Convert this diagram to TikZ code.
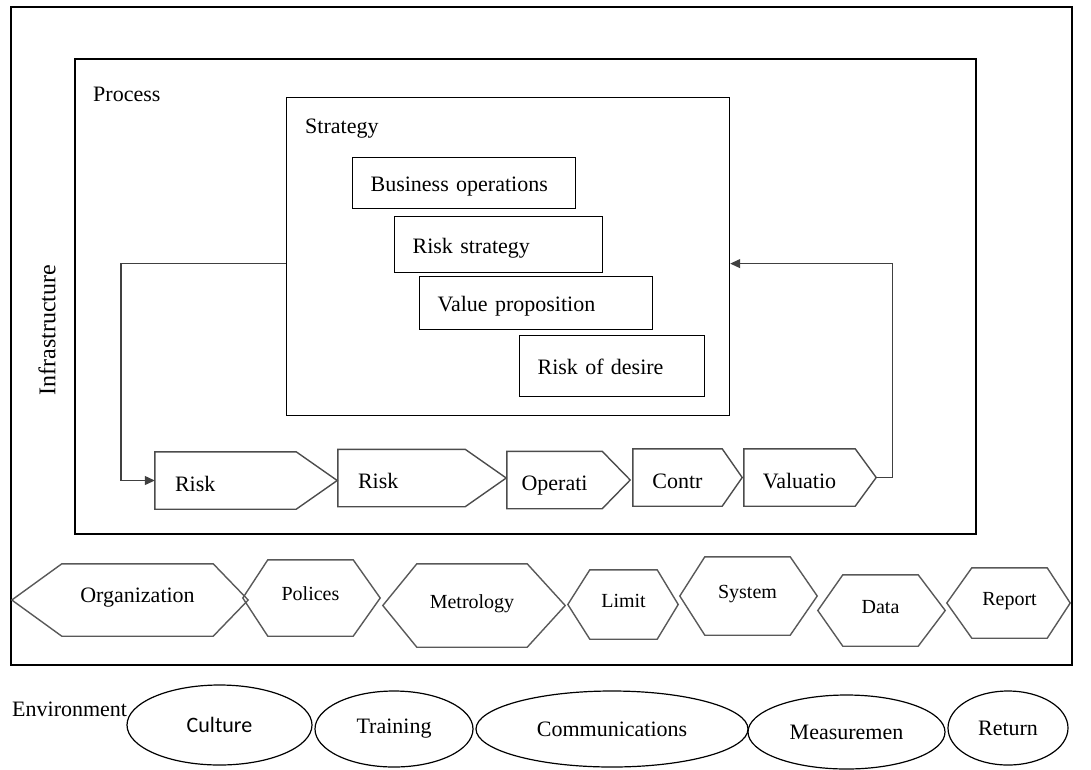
\documentclass[tikz,border=0pt]{standalone}
\usepackage{fontspec}
\setmainfont{Liberation Serif}
\newfontfamily\culturefont{Carlito}
\usetikzlibrary{arrows.meta,shapes.geometric}

\tikzset{
  frame/.style={draw, line width=1.4pt},
  stratbox/.style={draw, line width=1.2pt, inner xsep=18pt, inner ysep=0pt, align=left, anchor=north west, text height=20pt, text depth=3pt},
  chevbody/.style={minimum height=57pt, inner sep=0pt, text height=24pt, text depth=3pt},
  chevline/.style={draw=black!70, line width=1.4pt},
  hexbody/.style={inner sep=0pt, font=\fontsize{20pt}{23pt}\selectfont, text height=13pt, text depth=8pt},
  hexline/.style={draw=black!65, line width=1.4pt},
  envbox/.style={draw, ellipse, inner sep=0pt, line width=1.2pt},
  loopline/.style={->, draw=black!75, line width=1.2pt},
}

\begin{document}
\begin{tikzpicture}[x=1pt, y=-1pt, font=\fontsize{22pt}{26pt}\selectfont, >={Triangle[length=10pt,width=9pt]}]
  \useasboundingbox (0,0) rectangle (1091,769);
  % frames
  \draw[frame] (11,7) rectangle (1072,665);
  \draw[frame] (75,59) rectangle (976,534);
  \node[rotate=90, inner sep=0pt, font=\fontsize{24pt}{28pt}\selectfont] (infra) at (47,330) {Infrastructure};
  \node[anchor=west, inner sep=0pt] (proc) at (93,94) {Process};

  % strategy block
  \node[frame, line width=1.2pt, minimum width=443pt, minimum height=318pt, anchor=north west] (strat) at (286,97) {};
  \node[anchor=west, inner sep=0pt] (stratlbl) at (305,129) {Strategy};
  \node[stratbox, text width=187pt, minimum height=51pt] (bizops) at (352,157) {Business operations};
  \node[stratbox, text width=172pt, minimum height=56pt] (riskstrat) at (394,216) {Risk strategy};
  \node[stratbox, text width=197pt, minimum height=53pt] (valprop) at (419,276) {Value proposition};
  \node[stratbox, text width=149pt, minimum height=61pt] (riskdes) at (519,335) {Risk of desire};

  % value chain
  \node[chevbody, text width=101pt, inner xsep=20pt, align=left] (risk1) at (225.5,480.5) {Risk};
  \node[chevbody, text width=87pt, inner xsep=20pt, align=left] (risk2) at (401.5,478) {Risk};
  \node[chevbody, minimum width=95pt] (oper) at (554.5,480) {Operati};
  \node[chevbody, minimum width=89pt] (contr) at (677.5,477.5) {Contr};
  \node[chevbody, minimum width=111pt] (valu) at (799.5,477.5) {Valuatio};
  \foreach \n/\t in {risk1/41, risk2/41, oper/28, contr/20, valu/21}
    \draw[chevline] (\n.north west) -- (\n.north east) -- ([xshift=\t pt]\n.east) -- (\n.south east) -- (\n.south west) -- cycle;
  \coordinate (valtip) at ([xshift=21pt]valu.east);

  \draw[loopline] ([yshift=-7pt]strat.west) -- ++(-165,0) |- (risk1.west);
  \draw[loopline] (valtip) -- ++(16,0) |- ([yshift=-7pt]strat.east);

  % infrastructure row
  \node[hexbody, minimum width=151pt, minimum height=72pt, font=\fontsize{22pt}{26pt}\selectfont] (org) at (137.5,600) {Organization};
  \node[hexbody, minimum width=85pt, minimum height=76pt] (pol) at (310.5,598) {Polices};
  \node[hexbody, minimum width=110pt, minimum height=83pt] (met) at (472,605.5) {Metrology};
  \node[hexbody, minimum width=67pt, minimum height=69pt] (lim) at (623.5,604.5) {Limit};
  \node[hexbody, minimum width=85pt, minimum height=78pt] (sys) at (747.5,596) {System};
  \node[hexbody, minimum width=75pt, minimum height=71pt] (dat) at (880.5,610.5) {Data};
  \node[hexbody, minimum width=75pt, minimum height=70pt] (rep) at (1009.5,603) {Report};
  \foreach \n/\l/\r in {org/50/35, pol/25/27, met/34/38, lim/22/21, sys/25/27, dat/25/27, rep/25/23}
    \draw[hexline] ([xshift=-\l pt]\n.west) -- (\n.north west) -- (\n.north east) -- ([xshift=\r pt]\n.east) -- (\n.south east) -- (\n.south west) -- cycle;

  % environment row
  \node[anchor=west, inner sep=0pt] (env) at (12,709) {Environment};
  \node[envbox, minimum width=185pt, minimum height=80pt, font=\culturefont\fontsize{22pt}{26pt}\selectfont] (cult) at (219.5,725) {Culture};
  \node[envbox, minimum width=158pt, minimum height=76pt] (train) at (394,729) {Training};
  \node[envbox, minimum width=272pt, minimum height=76pt] (comm) at (612,729) {Communications};
  \node[envbox, minimum width=197pt, minimum height=74pt] (meas) at (846.5,732) {Measuremen};
  \node[envbox, minimum width=120pt, minimum height=74pt] (ret) at (1008,728) {Return};
\end{tikzpicture}
\end{document}
